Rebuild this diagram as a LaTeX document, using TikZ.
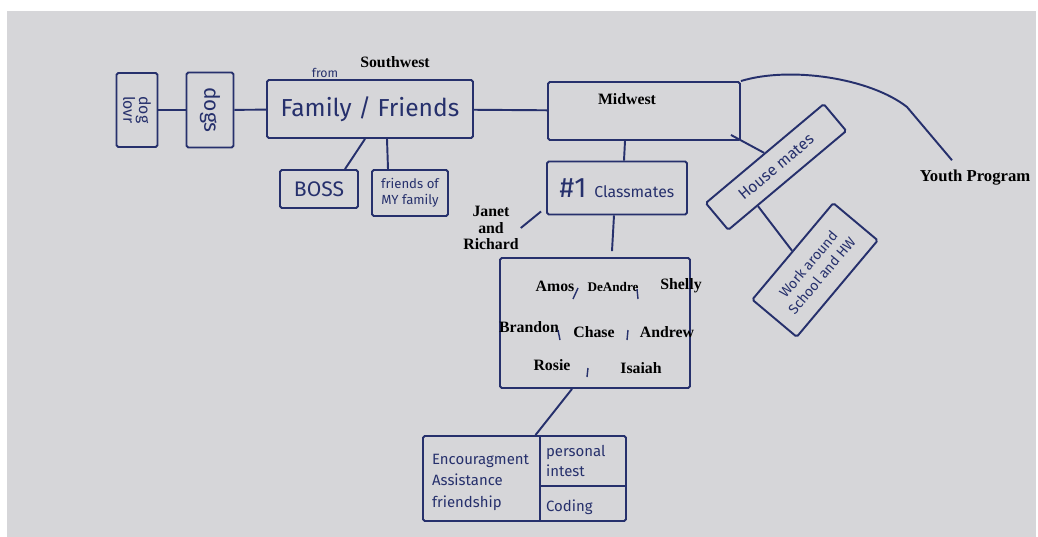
\documentclass[tikz,border=0pt]{standalone}
\usepackage{fontspec}
\setmainfont{Liberation Serif}
\newfontfamily\handfont{Fira Sans}
\usepackage{xcolor}
\usepackage{tikz}
\usetikzlibrary{positioning,calc}

\definecolor{paper}{RGB}{214,214,217}
\definecolor{ink}{RGB}{38,48,108}

\begin{document}
\begin{tikzpicture}[
  x=0.02cm, y=-0.02cm,
  box/.style={draw=ink, line width=1.1pt, rounded corners=1pt, inner sep=2pt, align=center,
    text=ink, font=\handfont\fontsize{9}{10}\selectfont},
  hand/.style={text=ink, inner sep=1pt, align=center, font=\handfont\fontsize{8.5}{10}\selectfont},
  typed/.style={inner sep=1pt, align=center, font=\bfseries\fontsize{9}{9.5}\selectfont},
  link/.style={draw=ink, line width=1.1pt},
]
  \useasboundingbox (0,0) rectangle (1038,537);
  \fill[white] (0,0) rectangle (1038,537);
  \fill[paper] (7,11) rectangle (1036,537);

  % left branch
  \node[box, rotate=-90, minimum width=1.48cm, minimum height=0.82cm,
        font=\handfont\fontsize{9}{9}\selectfont] (doglover) at (137,110) {dog\\lovr};
  \node[box, rotate=-90, minimum width=1.5cm, minimum height=0.94cm,
        font=\handfont\fontsize{12}{12}\selectfont] (dogs) at (210,110) {dogs};
  \node[box, minimum width=4.12cm, minimum height=1.16cm,
        font=\handfont\fontsize{14}{15}\selectfont] (family) at (370,109) {Family / Friends};
  \node[hand, font=\handfont\fontsize{7}{8}\selectfont] (from) at (325,73) {from};
  \node[typed] (southwest) at (395,62) {Southwest};
  \node[box, minimum width=1.56cm, minimum height=0.76cm,
        font=\handfont\fontsize{12}{12}\selectfont] (boss) at (319,189) {BOSS};
  \node[box, minimum width=1.52cm, minimum height=0.92cm,
        font=\handfont\fontsize{7.5}{9}\selectfont] (friendsof) at (410,193) {friends of\\MY family};

  % middle branch
  \node[box, minimum width=3.84cm, minimum height=1.16cm] (midwest) at (644,111) {};
  \node[typed] (midwestlabel) at (627,99) {Midwest};
  \node[box, minimum width=2.8cm, minimum height=1.06cm] (classmates) at (617,188)
    {{\fontsize{16}{16}\selectfont\#1}\enspace Classmates};
  \node[typed] (janet) at (491,228) {Janet\\and\\Richard};
  \node[box, minimum width=3.8cm, minimum height=2.6cm] (names) at (595,323) {};
  \node[typed] (amos) at (555,286) {Amos};
  \node[typed, font=\bfseries\fontsize{7.5}{8}\selectfont] (deandre) at (613,287) {DeAndre};
  \node[typed] (shelly) at (681,286) {Shelly};
  \node[typed] (brandon) at (529,327) {Brandon};
  \node[typed] (chase) at (594,332) {Chase};
  \node[typed] (andrew) at (667,332) {Andrew};
  \node[typed] (rosie) at (552,365) {Rosie};
  \node[typed] (isaiah) at (641,368) {Isaiah};
  \foreach \a/\b in {{(578,288)}/{(573,299)}, {(637,289)}/{(638,299)},
                     {(558,330)}/{(560,340)}, {(628,330)}/{(627,340)}, {(588,368)}/{(587,377)}}
    \draw[ink, line width=0.8pt] \a -- \b;

  % support table
  \node[box, minimum width=4.06cm, minimum height=1.7cm] (support) at (524.5,478.5) {};
  \draw[link] (support.north -| 540,0) -- (support.south -| 540,0);
  \draw[link] (540,486) -- (support.east |- 0,486);
  \node[hand, anchor=west] (encourage) at (430,461) {Encouragment};
  \node[hand, anchor=west] (assist) at (430,480) {Assistance};
  \node[hand, anchor=west] (friendship) at (430,503) {friendship};
  \node[hand, anchor=west] (personal) at (544,452) {personal};
  \node[hand, anchor=west] (interest) at (544,471) {intest};
  \node[hand, anchor=west] (coding) at (544,507) {Coding};

  % right branch
  \node[box, rotate=40, minimum width=3.08cm, minimum height=0.7cm] (housemates) at (776,167) {House mates};
  \node[box, rotate=50, minimum width=2.52cm, minimum height=1.16cm,
        font=\handfont\fontsize{8}{10}\selectfont] (work) at (815,270) {Work around\\School and HW};
  \node[typed, font=\bfseries\fontsize{9.5}{10}\selectfont] (youth) at (975,178) {Youth Program};

  % connectors
  \draw[link] (doglover) -- (dogs);
  \draw[link] (dogs) -- (family);
  \draw[link] (family) -- (midwest);
  \draw[link] ($(family.south)+(-5,0)$) -- ($(boss.north)+(26,0)$);
  \draw[link] ($(family.south)+(17,0)$) -- ($(friendsof.north)+(-22,0)$);
  \draw[link] ($(midwest.south)+(-19,0)$) -- ($(classmates.north)+(7,0)$);
  \draw[link] ($(classmates.south)+(-3,0)$) -- ($(names.north)+(17,-6)$);
  \draw[link] (janet.east) -- ($(classmates.south west)+(-5,-4)$);
  \draw[link] ($(names.south)+(-23,0)$) -- ($(support.north)+(11,0)$);
  \draw[link] ($(midwest.south east)+(-10,-6)$) -- (housemates.north);
  \draw[link] ($(housemates.south west)!0.25!(housemates.south east)$) -- (work.north);
  \draw[link] (midwest.north east) .. controls (790,66) and (870,78) .. (907,107)
    -- ($(youth.north)+(-23,-8)$);
\end{tikzpicture}
\end{document}
